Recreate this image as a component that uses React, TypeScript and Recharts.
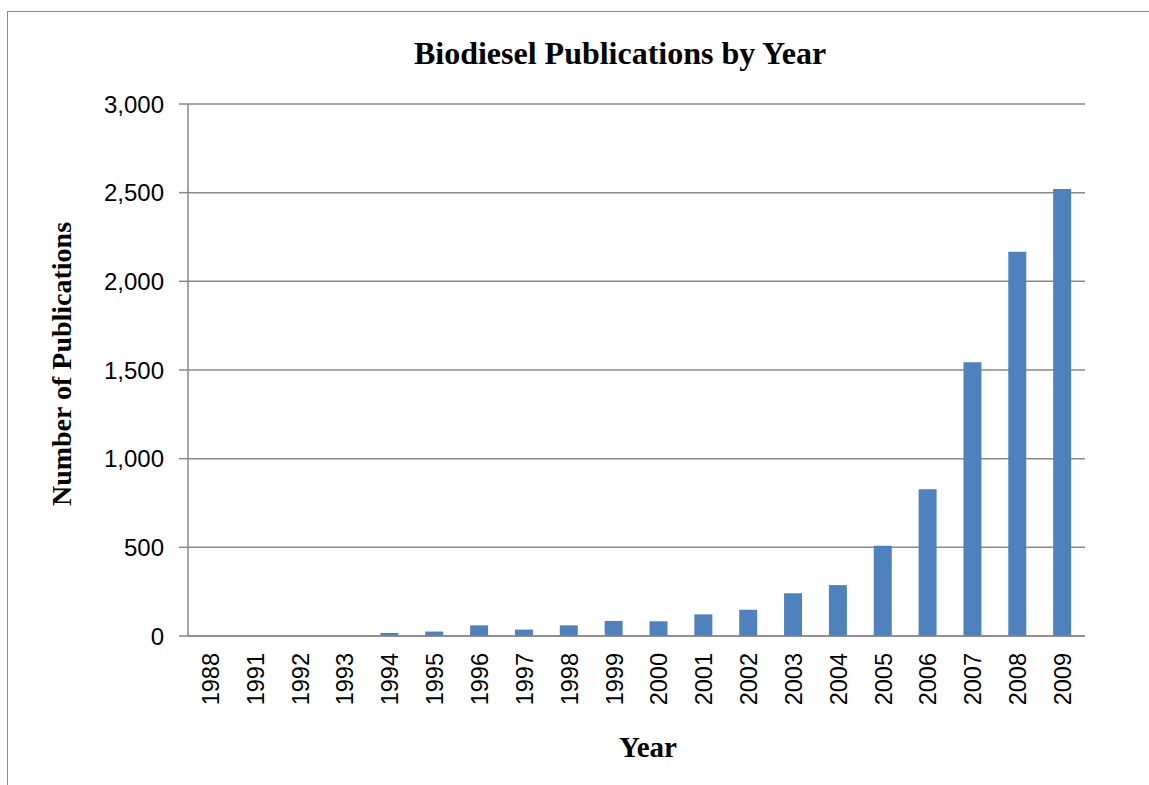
import { BarChart, Bar, XAxis, YAxis, CartesianGrid } from "recharts";

const YEARS = [
  "1988", "1991", "1992", "1993", "1994", "1995", "1996", "1997", "1998", "1999",
  "2000", "2001", "2002", "2003", "2004", "2005", "2006", "2007", "2008", "2009",
];
const PUBLICATIONS = [
  1, 1, 1, 1, 17, 25, 60, 36, 60, 85,
  83, 122, 148, 241, 287, 509, 827, 1543, 2167, 2520,
];
const Y_TICKS = [0, 500, 1000, 1500, 2000, 2500, 3000];

const data = YEARS.map((year, i) => ({ year, count: PUBLICATIONS[i] }));

const GRID = "#898989";
const BAR = "#4F81BD";
const SANS = "'Liberation Sans', Arial, sans-serif";
const SERIF = "'Liberation Serif', 'Times New Roman', serif";

function YearTick(props: any) {
  const { x, y, payload } = props;
  return (
    <text
      x={x}
      y={y}
      transform={`rotate(-90, ${x}, ${y})`}
      textAnchor="end"
      dy="0.36em"
      fontFamily={SANS}
      fontSize={23.5}
      fill="#000"
    >
      {payload.value}
    </text>
  );
}

export default function App() {
  return (
    <div
      style={{
        position: "absolute",
        left: 0,
        top: 0,
        width: 1149,
        height: 785,
        overflow: "hidden",
        background: "#fff",
      }}
    >
      <div
        style={{
          position: "absolute",
          left: 7,
          top: 11,
          width: 1200,
          height: 800,
          border: `1px solid ${GRID}`,
        }}
      />
      <div
        style={{
          position: "absolute",
          left: 0,
          width: 1240,
          top: 34,
          textAlign: "center",
          fontFamily: SERIF,
          fontWeight: "bold",
          fontSize: 32,
          lineHeight: "38px",
        }}
      >
        Biodiesel Publications by Year
      </div>
      <div
        style={{
          position: "absolute",
          left: 548,
          width: 200,
          top: 731,
          textAlign: "center",
          fontFamily: SERIF,
          fontWeight: "bold",
          fontSize: 29,
          lineHeight: "32px",
        }}
      >
        Year
      </div>
      <div
        style={{
          position: "absolute",
          left: 62,
          top: 364,
          transform: "translate(-50%, -50%) rotate(-90deg)",
          whiteSpace: "nowrap",
          fontFamily: SERIF,
          fontWeight: "bold",
          fontSize: 28,
          lineHeight: "32px",
        }}
      >
        Number of Publications
      </div>
      <div style={{ position: "absolute", left: 0, top: 0 }}>
        <BarChart
          width={1149}
          height={785}
          data={data}
          margin={{ top: 104, right: 64, bottom: 0, left: 0 }}
        >
          <CartesianGrid vertical={false} stroke={GRID} strokeWidth={1.5} />
          <XAxis
            dataKey="year"
            height={149}
            interval={0}
            tickLine={false}
            tickSize={0}
            tickMargin={17}
            axisLine={{ stroke: GRID, strokeWidth: 1.5 }}
            tick={<YearTick />}
          />
          <YAxis
            width={188}
            domain={[0, 3000]}
            ticks={Y_TICKS}
            interval={0}
            tickSize={9}
            tickMargin={15}
            tickLine={{ stroke: GRID, strokeWidth: 1.5 }}
            axisLine={{ stroke: GRID, strokeWidth: 1.5 }}
            tickFormatter={(v: number) => v.toLocaleString("en-US")}
            tick={{ fill: "#000", fontFamily: SANS, fontSize: 24 }}
          />
          <Bar dataKey="count" fill={BAR} barSize={18} isAnimationActive={false} />
        </BarChart>
      </div>
    </div>
  );
}
